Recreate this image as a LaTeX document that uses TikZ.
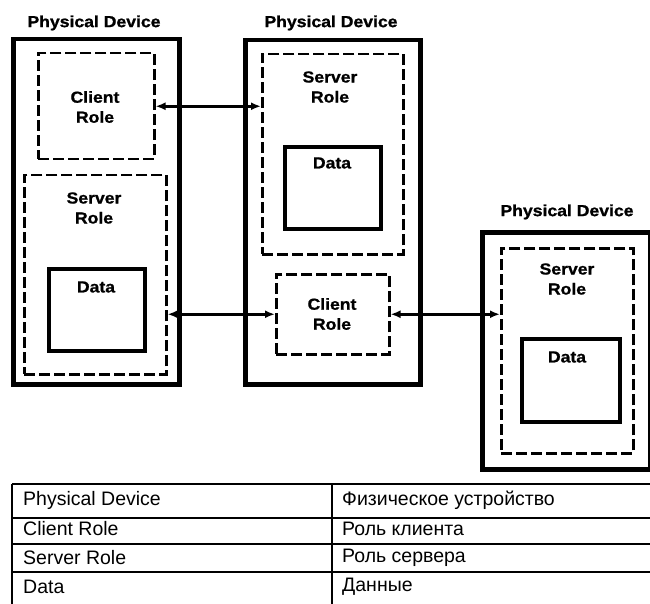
\documentclass[tikz,border=0pt]{standalone}
\usepackage{fontspec}
\setmainfont{Liberation Sans}
\newfontfamily\boxfont[FakeStretch=1.1,FakeBold=1]{Liberation Sans}
\usepackage{tikz}
\usetikzlibrary{arrows.meta}

\begin{document}
\begin{tikzpicture}[
    x=1pt, y=-1pt,
    device/.style={rectangle, draw, line width=4.5pt, inner sep=0pt, anchor=north west},
    role/.style={rectangle, draw, line width=2.5pt, dash pattern=on 11pt off 4pt, inner sep=0pt, anchor=north west},
    databox/.style={rectangle, draw, line width=4pt, inner sep=0pt, anchor=north west},
    lbl/.style={align=center, inner sep=0pt, font=\boxfont\bfseries\fontsize{16}{20}\selectfont},
    arrow/.style={{Latex[length=10pt,width=8pt]}-{Latex[length=10pt,width=8pt]}, line width=3pt},
    cell/.style={anchor=west, inner sep=0pt, font=\fontsize{19.5}{21}\selectfont},
    rule/.style={line width=1.4pt}
]
\useasboundingbox (0,0) rectangle (650,604);

% left device
\node[device, minimum width=166pt, minimum height=345pt] (ldevice) at (11,37) {};
\node[lbl] (ldevicelbl) at (94,23) {Physical Device};
\node[role, minimum width=116pt, minimum height=106pt] (lclient) at (37,52) {};
\node[lbl] (lclientlbl) at (95,107) {Client\\Role};
\node[role, minimum width=142pt, minimum height=199pt] (lserver) at (23,174) {};
\node[lbl] (lserverlbl) at (94,208) {Server\\Role};
\node[databox, minimum width=96pt, minimum height=82pt] (ldata) at (47,267) {};
\node[lbl] (ldatalbl) at (96,287) {Data};

% middle device
\node[device, minimum width=175pt, minimum height=344pt] (mdevice) at (243,38) {};
\node[lbl] (mdevicelbl) at (331,23) {Physical Device};
\node[role, minimum width=141pt, minimum height=200pt] (mserver) at (261,53) {};
\node[lbl] (mserverlbl) at (330,87) {Server\\Role};
\node[databox, minimum width=96pt, minimum height=82pt] (mdata) at (283,145) {};
\node[lbl] (mdatalbl) at (332,163) {Data};
\node[role, minimum width=113pt, minimum height=80pt] (mclient) at (275,273) {};
\node[lbl] (mclientlbl) at (332,314) {Client\\Role};

% right device
\node[device, minimum width=168pt, minimum height=237pt] (rdevice) at (480,230) {};
\node[lbl] (rdevicelbl) at (567,212) {Physical Device};
\node[role, minimum width=132pt, minimum height=205pt] (rserver) at (500,247) {};
\node[lbl] (rserverlbl) at (567,279) {Server\\Role};
\node[databox, minimum width=98pt, minimum height=83pt] (rdata) at (520,337) {};
\node[lbl] (rdatalbl) at (567,357) {Data};

\draw[arrow] (lclient.east) -- (lclient.east -| mserver.west);
\draw[arrow] (mclient.west -| lserver.east) -- (mclient.west);
\draw[arrow] (mclient.east) -- (mclient.east -| rserver.west);

% table
\draw[rule] (12,484) -- (650,484);
\draw[rule] (12,518) -- (650,518);
\draw[rule] (12,544) -- (650,544);
\draw[rule] (12,572) -- (650,572);
\draw[rule] (12,484) -- (12,604);
\draw[rule] (332,484) -- (332,604);
\node[cell] (t1a) at (23,500) {Physical Device};
\node[cell] (t1b) at (342,500) {Физическое устройство};
\node[cell] (t2a) at (23,529) {Client Role};
\node[cell] (t2b) at (342,529) {Роль клиента};
\node[cell] (t3a) at (23,558) {Server Role};
\node[cell] (t3b) at (342,558) {Роль сервера};
\node[cell] (t4a) at (23,587) {Data};
\node[cell] (t4b) at (342,587) {Данные};
\end{tikzpicture}
\end{document}
